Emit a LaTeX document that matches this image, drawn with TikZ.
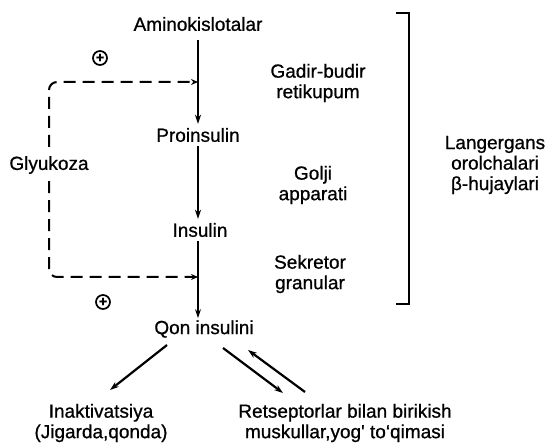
\documentclass[tikz,border=0pt]{standalone}
\usepackage{fontspec}
\setmainfont{Liberation Sans}[FakeBold=0.8]
\usetikzlibrary{positioning,arrows.meta,calc}

\begin{document}
\begin{tikzpicture}[
  x=1pt, y=-1pt,
  font=\fontsize{19}{20.5}\selectfont,
  lbl/.style={align=center, inner sep=1pt},
  lk/.style={-{Stealth[length=9pt,width=6pt]}, line width=2.2pt},
  fb/.style={-{Stealth[length=7pt,width=6pt]}, line width=2pt,
             dash pattern=on 12pt off 7pt, rounded corners=8pt},
  pl/.style={circle, draw, line width=1.7pt, inner sep=0pt, minimum size=14pt,
             font=\fontsize{14}{14}\selectfont\bfseries},
  brk/.style={line width=1.8pt},
]
\useasboundingbox (0,0) rectangle (548,443);
% Synthesis chain
\node[lbl] (amino) at (198,24) {Aminokislotalar};
\node[lbl] (proins) at (198,135) {Proinsulin};
\node[lbl] (insul) at (200,230) {Insulin};
\node[lbl] (qon) at (204,329) {Qon insulini};
\coordinate (j1) at (198,82);
\coordinate (j2) at (198,277);
\draw[lk] ([yshift=-8pt]amino.south -| j1) -- ([yshift=3pt]proins.north -| j1);
\draw[lk] ([yshift=-3pt]proins.south -| j1) -- ([yshift=3pt]insul.north -| j1);
\draw[lk] ([yshift=-3pt]insul.south -| j2) -- ([yshift=1pt]qon.north -| j2);
% Glucose feedback
\node[lbl] (glyuk) at (49,165) {Glyukoza};
\draw[fb, shorten <=8pt] (glyuk.north) -- (glyuk.north |- j1) -- (j1);
\draw[fb, shorten <=6pt] (glyuk.south) -- (glyuk.south |- j2) -- (j2);
\node[pl] (plone) at (100,58) {+};
\node[pl] (pltwo) at (103,302) {+};
% Cell compartments
\node[lbl] (gadir) at (318,83) {Gadir-budir\\retikupum};
\node[lbl] (golji) at (313,185) {Golji\\apparati};
\node[lbl] (sekret) at (310,274) {Sekretor\\granular};
\coordinate (btop) at (409,13);
\coordinate (bbot) at (409,304);
\draw[brk] ($(btop)+(-13,0)$) -- (btop) -- (bbot) -- ($(bbot)+(-13,0)$);
\node[lbl] (langer) at (495,165) {Langergans\\orolchalari\\β-hujaylari};
% Fate of blood insulin
\node[lbl] (inakt) at (101,423) {Inaktivatsiya\\(Jigarda,qonda)};
\node[lbl] (retsep) at (345,423) {Retseptorlar bilan birikish\\muskullar,yog\textquotesingle\ to`qimasi};
\draw[lk] ($(qon)+(-37,16)$) -- ($(inakt)+(9,-33)$);
\draw[lk] ($(qon)+(19,19)$) -- ($(retsep)+(-62,-30)$);
\draw[lk] ($(retsep)+(-40,-31)$) -- ($(qon)+(44,21)$);
\end{tikzpicture}
\end{document}
